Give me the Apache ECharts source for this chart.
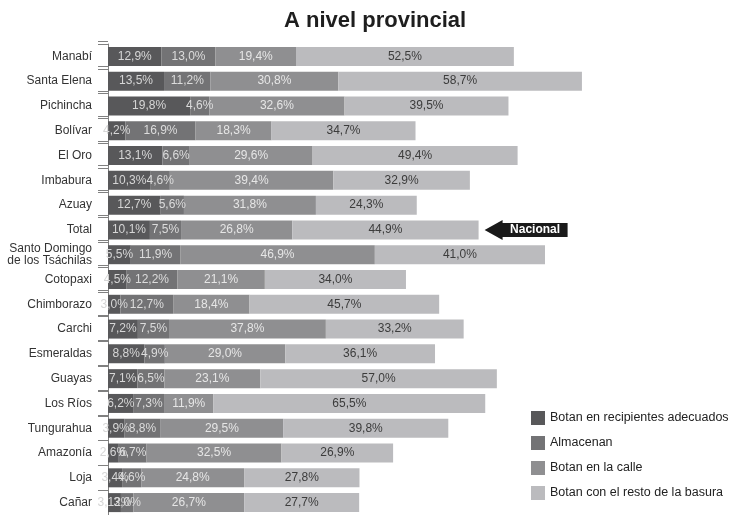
<!DOCTYPE html>
<html>
<head>
<meta charset="utf-8">
<script src="https://cdn.jsdelivr.net/npm/echarts@6/dist/echarts.min.js"></script>
<style>
  html, body { margin: 0; padding: 0; background: #ffffff; }
  #chart { width: 733px; height: 515px; }
</style>
</head>
<body>
<div id="chart"></div>
<script>
// Provinces, top to bottom
const provincias = [
  'Manabí', 'Santa Elena', 'Pichincha', 'Bolívar', 'El Oro', 'Imbabura', 'Azuay',
  'Total', 'Santo Domingo\nde los Tsáchilas', 'Cotopaxi', 'Chimborazo', 'Carchi',
  'Esmeraldas', 'Guayas', 'Los Ríos', 'Tungurahua', 'Amazonía', 'Loja', 'Cañar'
];

// Share of households per practice (%)
const recipientes = [12.9, 13.5, 19.8, 4.2, 13.1, 10.3, 12.7, 10.1, 5.5, 4.5, 3.0, 7.2, 8.8, 7.1, 6.2, 3.9, 2.6, 3.4, 3.12];
const almacenan   = [13.0, 11.2, 4.6, 16.9, 6.6, 4.6, 5.6, 7.5, 11.9, 12.2, 12.7, 7.5, 4.9, 6.5, 7.3, 8.8, 6.7, 4.6, 3.0];
const calle       = [19.4, 30.8, 32.6, 18.3, 29.6, 39.4, 31.8, 26.8, 46.9, 21.1, 18.4, 37.8, 29.0, 23.1, 11.9, 29.5, 32.5, 24.8, 26.7];
const resto       = [52.5, 58.7, 39.5, 34.7, 49.4, 32.9, 24.3, 44.9, 41.0, 34.0, 45.7, 33.2, 36.1, 57.0, 65.5, 39.8, 26.9, 27.8, 27.7];

const nombresSeries = [
  'Botan en recipientes adecuados',
  'Almacenan',
  'Botan en la calle',
  'Botan con el resto de la basura'
];
const marcaNacional = 'Total';
const textoNacional = 'Nacional';

const colores = ['#58585a', '#737375', '#8f8f91', '#bbbbbe'];
const coloresEtiqueta = ['#d6d6d6', '#dcdcdc', '#e6e6e6', '#3c3c3c'];

// Spanish-style percentage: comma as decimal separator
function pct(v) {
  const s = (Math.abs(v * 10 - Math.round(v * 10)) < 1e-9) ? v.toFixed(1) : String(v);
  return s.replace('.', ',') + '%';
}

const idxNacional = provincias.indexOf(marcaNacional);
const sumaNacional = recipientes[idxNacional] + almacenan[idxNacional] + calle[idxNacional] + resto[idxNacional];

const fuente = 'Liberation Sans, Arial, Helvetica, sans-serif';
const datosSeries = [recipientes, almacenan, calle, resto];

const series = datosSeries.map((arr, i) => {
  const s = {
    name: nombresSeries[i],
    type: 'bar',
    stack: 'hogares',
    xAxisIndex: 0,
    yAxisIndex: 0,
    barWidth: 19,
    data: arr,
    itemStyle: { color: colores[i] },
    label: {
      show: true,
      position: 'inside',
      formatter: p => pct(p.value),
      color: coloresEtiqueta[i],
      fontFamily: fuente,
      fontSize: 12
    },
    emphasis: { disabled: true }
  };
  if (i === datosSeries.length - 1) {
    // Arrow tag pointing at the national total bar
    s.markPoint = {
      silent: true,
      symbol: 'path://M0,10L18,0L18,3L83,3L83,17L18,17L18,20Z',
      symbolSize: [83, 20],
      symbolOffset: [47.5, 0],
      itemStyle: { color: '#1a1a1a' },
      label: {
        show: true,
        position: 'inside',
        offset: [9, 0],
        formatter: textoNacional,
        color: '#ffffff',
        fontFamily: fuente,
        fontSize: 12,
        fontWeight: 'bold'
      },
      data: [{ coord: [sumaNacional, marcaNacional] }]
    };
  }
  return s;
});

const chart = echarts.init(document.getElementById('chart'), null, { renderer: 'canvas' });

chart.setOption({
  animation: false,
  backgroundColor: '#ffffff',
  title: {
    text: 'A nivel provincial',
    left: 279,
    top: 5,
    textStyle: { fontFamily: fuente, fontSize: 22, fontWeight: 'bold', color: '#1e1e1e' }
  },
  legend: {
    orient: 'vertical',
    left: 526,
    top: 406,
    itemWidth: 14,
    itemHeight: 14,
    itemGap: 11,
    icon: 'rect',
    selectedMode: false,
    textStyle: { fontFamily: fuente, fontSize: 12.5, color: '#222222' },
    data: nombresSeries
  },
  grid: [
    { left: 108, top: 44, width: 622.5, height: 477 },
    // second set of boundary ticks, drawn a few pixels higher
    { left: 108, top: 41, width: 622.5, height: 477 }
  ],
  xAxis: [
    { gridIndex: 0, type: 'value', min: 0, max: 150, show: false },
    { gridIndex: 1, type: 'value', min: 0, max: 150, show: false }
  ],
  yAxis: [
    {
      gridIndex: 0,
      type: 'category',
      inverse: true,
      data: provincias,
      axisLine: { show: true, lineStyle: { color: '#808080', width: 1 } },
      axisTick: { show: true, length: 10, lineStyle: { color: '#808080', width: 1 } },
      axisLabel: {
        margin: 16,
        fontFamily: fuente,
        fontSize: 12,
        lineHeight: 12,
        color: '#333333'
      },
      splitLine: { show: false }
    },
    {
      gridIndex: 1,
      type: 'category',
      inverse: true,
      data: provincias,
      axisLine: { show: false },
      axisTick: { show: true, length: 10, lineStyle: { color: '#808080', width: 1 } },
      axisLabel: { show: false },
      splitLine: { show: false }
    }
  ],
  series: series
});
</script>
</body>
</html>
